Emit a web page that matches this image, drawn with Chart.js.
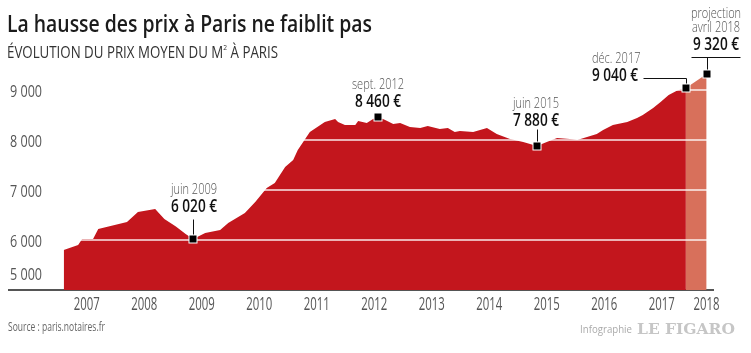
<!DOCTYPE html>
<html>
<head>
<meta charset="utf-8">
<script src="https://cdn.jsdelivr.net/npm/chart.js@4.4.1/dist/chart.umd.min.js"></script>
<style>
  html, body { margin: 0; padding: 0; background: #fff; }
  #wrap { position: relative; width: 751px; height: 353px; overflow: hidden; }
  #chart { position: absolute; left: 0; top: 0; }
  .txt { position: absolute; white-space: nowrap; line-height: 1; font-family: 'Open Sans', sans-serif; transform-origin: 0 0; }
  #title { left: 7px; top: 11px; font-size: 24px; font-weight: 600; color: #1b1b1b; }
  #subtitle { left: 7px; top: 44px; font-size: 16px; color: #333; }
  #subtitle sup { font-size: 8px; vertical-align: 8px; line-height: 0; }
  #source { left: 8px; top: 321px; font-size: 12px; color: #666; }
  #infog { left: 580px; top: 323px; font-size: 11.5px; color: #aaa; }
  #figaro { left: 637px; top: 322px; font-size: 14px; font-weight: bold; color: #c6c6c6; font-family: 'DejaVu Serif', 'Liberation Serif', serif; }
</style>
</head>
<body>
<div id="wrap">
  <canvas id="chart" width="751" height="353"></canvas>
  <div class="txt" id="title" data-w="365">La hausse des prix à Paris ne faiblit pas</div>
  <div class="txt" id="subtitle" data-w="271">ÉVOLUTION DU PRIX MOYEN DU M<sup>2</sup> À PARIS</div>
  <div class="txt" id="source" data-w="97">Source : paris.notaires.fr</div>
  <div class="txt" id="infog" data-w="52">Infographie</div>
  <div class="txt" id="figaro" data-w="98">LE FIGARO</div>
</div>
<script>
// ── DATA ─────────────────────────────────────────────────────
// dates in decimal years, prices in € per m²
const dates = [
  2007.10, 2007.35, 2007.42, 2007.61, 2007.70, 2008.20, 2008.39, 2008.69, 2008.85,
  2009.05, 2009.22, 2009.35, 2009.56, 2009.82, 2009.96, 2010.25, 2010.43, 2010.63,
  2010.77, 2010.95, 2011.09, 2011.17, 2011.38, 2011.64, 2011.82, 2011.87, 2011.99,
  2012.17, 2012.22, 2012.37, 2012.48, 2012.57, 2012.69, 2012.83, 2012.95, 2013.12,
  2013.30, 2013.43, 2013.64, 2013.78, 2013.90, 2013.99, 2014.22, 2014.46, 2014.63,
  2014.86, 2015.09, 2015.33, 2015.50, 2015.68, 2015.90, 2016.03, 2016.20, 2016.37,
  2016.48, 2016.65, 2016.90, 2017.07, 2017.17, 2017.35, 2017.48, 2017.62, 2017.77,
  2017.92
]
const prices = [
  5800, 5900, 6020, 6020, 6220, 6360, 6560, 6620, 6420,
  6270, 6120, 6020, 6140, 6200, 6340, 6540, 6760, 7040,
  7140, 7460, 7600, 7800, 8160, 8360, 8420, 8360, 8300,
  8300, 8380, 8340, 8420, 8460, 8400, 8320, 8340, 8260,
  8240, 8280, 8220, 8240, 8160, 8180, 8160, 8240, 8120,
  8020, 7960, 7880, 7960, 8040, 8020, 8000, 8060, 8120,
  8200, 8300, 8360, 8440, 8500, 8640, 8760, 8900, 8990,
  9040
]
const projDates = [2017.92, 2018.28]
const projPrices = [9040, 9320]

const yearLabels = ['2007', '2008', '2009', '2010', '2011', '2012', '2013', '2014', '2015', '2016', '2017', '2018']
const yTicks = [5000, 6000, 7000, 8000, 9000]

const noteDates = [2009.35, 2012.57, 2015.33, 2017.92, 2018.28]
const noteValues = [6020, 8460, 7880, 9040, 9320]
const noteTitles = [['juin 2009'], ['sept. 2012'], ['juin 2015'], ['déc. 2017'], ['projection', 'avril 2018']]

// ── LAYOUT OF THE CALLOUTS ───────────────────────────────────
// dx/dy: value text anchor offset from the marker, lines: leader segments
const noteLayout = [
  { align: 'center', dx: 1, dy: -32, lines: [[0, -20, 0, -4]] },
  { align: 'center', dx: 0, dy: -15, lines: [] },
  { align: 'center', dx: -1, dy: -25, lines: [[0, -17, 0, -4]] },
  { align: 'left', dx: -94, dy: -12, lines: [[-43, -10, 0, -10], [0, -10, 0, -4]] },
  { align: 'center', dx: 9, dy: -29, lines: [[-16, -17, 33, -17], [0, -17, 0, -4]] }
]

// text styles; sx squeezes the face to mimic the condensed original
const TEXT = {
  xTick: { font: '18px "Open Sans"', color: '#555', sample: '2007', width: 26 },
  yTick: { font: '17px "Open Sans"', color: '#555', sample: '9 000', width: 32 },
  noteDate: { font: '300 15px "Open Sans"', color: '#555', sample: 'juin 2009', width: 46 },
  noteValue: { font: '600 18px "Open Sans"', color: '#111', sample: '6 020 €', width: 46 }
}

const fmt = v => String(v).replace(/\B(?=(\d{3})+(?!\d))/g, ' ')

// squeeze the html texts to their widths
document.querySelectorAll('.txt').forEach(el => {
  const w = el.getBoundingClientRect().width
  el.style.transform = `scaleX(${el.dataset.w / w})`
})

function drawText(ctx, style, s, x, y, align) {
  ctx.font = style.font
  if (!style.sx) style.sx = style.width / ctx.measureText(style.sample).width
  const w = ctx.measureText(s).width * style.sx
  const left = align === 'center' ? x - w / 2 : align === 'right' ? x - w : x
  ctx.save()
  ctx.translate(left, y)
  ctx.scale(style.sx, 1)
  ctx.fillStyle = style.color
  ctx.textAlign = 'left'
  ctx.textBaseline = 'middle'
  ctx.fillText(s, 0, 0)
  ctx.restore()
}

const RED = '#c3161d'
const PROJ = '#d8705b'

const overlay = {
  id: 'overlay',
  afterDatasetsDraw(chart) {
    const { ctx, chartArea, scales: { y } } = chart
    // white grid lines over the area
    ctx.save()
    ctx.strokeStyle = 'rgba(255,255,255,0.9)'
    ctx.lineWidth = 1.5
    y.ticks.forEach(t => {
      if (t.value === yTicks[0]) return
      const py = Math.round(y.getPixelForValue(t.value))
      ctx.beginPath()
      ctx.moveTo(chartArea.left, py)
      ctx.lineTo(chartArea.right, py)
      ctx.stroke()
    })
    ctx.restore()
  },
  afterDraw(chart) {
    const { ctx, scales: { x, y } } = chart
    ctx.save()
    // y labels
    y.ticks.forEach(t => {
      const py = y.getPixelForValue(t.value) + (t.value === yTicks[0] ? -15 : 2)
      drawText(ctx, TEXT.yTick, fmt(t.value), 10, py, 'left')
    })
    // x labels
    x.ticks.forEach((t, i) => {
      drawText(ctx, TEXT.xTick, yearLabels[i], x.getPixelForTick(i), 305, 'center')
    })
    // callouts
    noteDates.forEach((d, i) => {
      const px = Math.round(x.getPixelForValue(d))
      const py = Math.round(y.getPixelForValue(noteValues[i]))
      const L = noteLayout[i]
      ctx.strokeStyle = '#111'
      ctx.lineWidth = 1
      L.lines.forEach(s => {
        ctx.beginPath()
        ctx.moveTo(px + s[0] + 0.5, py + s[1] + 0.5)
        ctx.lineTo(px + s[2] + 0.5, py + s[3] + 0.5)
        ctx.stroke()
      })
      ctx.fillStyle = '#fff'
      ctx.fillRect(px - 4.5, py - 4.5, 9, 9)
      ctx.fillStyle = '#000'
      ctx.fillRect(px - 3.5, py - 3.5, 7, 7)
      const tx = px + L.dx
      const ty = py + L.dy
      drawText(ctx, TEXT.noteValue, fmt(noteValues[i]) + ' €', tx, ty, L.align)
      const t = noteTitles[i]
      t.forEach((s, k) => drawText(ctx, TEXT.noteDate, s, tx, ty - 17 - (t.length - 1 - k) * 14, L.align))
    })
    ctx.restore()
  }
}

new Chart(document.getElementById('chart'), {
  type: 'line',
  data: {
    datasets: [
      {
        data: dates.map((d, i) => ({ x: d, y: prices[i] })),
        backgroundColor: RED,
        borderWidth: 0,
        pointRadius: 0,
        fill: 'start'
      },
      {
        data: projDates.map((d, i) => ({ x: d, y: projPrices[i] })),
        backgroundColor: PROJ,
        borderWidth: 0,
        pointRadius: 0,
        fill: 'start'
      }
    ]
  },
  options: {
    responsive: false,
    animation: false,
    layout: { padding: { left: 9, right: 38, top: 0, bottom: 0 } },
    plugins: { legend: { display: false }, tooltip: { enabled: false } },
    scales: {
      x: {
        type: 'linear',
        min: 2006.148,
        max: 2018.391,
        z: 2,
        grid: { display: false, drawTicks: false },
        border: { display: true, color: '#555', width: 2 },
        afterBuildTicks: s => {
          s.ticks = yearLabels.map((yr, i) => ({ value: i < yearLabels.length - 1 ? +yr + 0.5 : projDates[projDates.length - 1] }))
        },
        afterFit: s => { s.height = 63 },
        ticks: { display: false, autoSkip: false }
      },
      y: {
        display: true,
        min: 5000,
        max: 10800,
        afterBuildTicks: s => { s.ticks = yTicks.map(v => ({ value: v })) },
        afterFit: s => { s.width = 0 },
        grid: { display: false, drawTicks: false },
        border: { display: false },
        ticks: { display: false }
      }
    }
  },
  plugins: [overlay]
})
</script>
</body>
</html>
